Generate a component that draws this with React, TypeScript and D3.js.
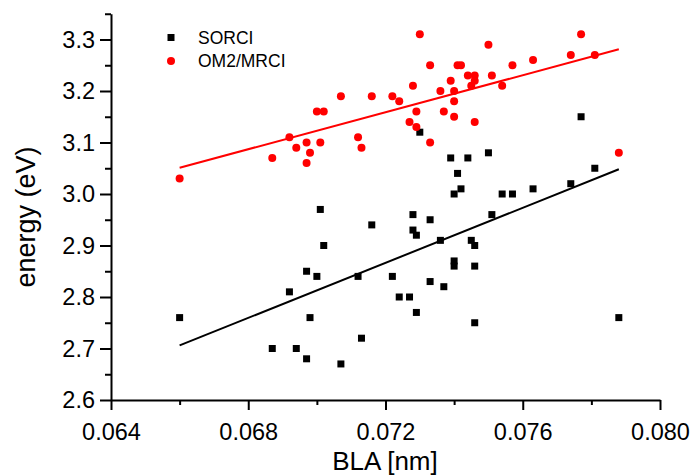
import React, { useEffect, useRef } from "react";
import * as d3 from "d3";

const W = 694;
const H = 475;

// SORCI series
const sorciX = [0.0660, 0.0692, 0.0687, 0.0694, 0.0730, 0.0739, 0.0744, 0.0750, 0.0741, 0.0742, 0.0740, 0.0701, 0.0777, 0.0781, 0.0754, 0.0757, 0.0763, 0.0774, 0.0728, 0.0733, 0.0751, 0.0716, 0.0728, 0.0729, 0.0702, 0.0736, 0.0745, 0.0746, 0.0740, 0.0740, 0.0746, 0.0697, 0.0700, 0.0712, 0.0722, 0.0733, 0.0737, 0.0724, 0.0727, 0.0729, 0.0698, 0.0746, 0.0713, 0.0697, 0.0707, 0.0788];
const sorciY = [2.76, 2.81, 2.70, 2.70, 3.12, 3.07, 3.07, 3.08, 3.04, 3.01, 3.00, 2.97, 3.15, 3.05, 3.00, 3.00, 3.01, 3.02, 2.96, 2.95, 2.96, 2.94, 2.93, 2.92, 2.90, 2.91, 2.91, 2.90, 2.87, 2.86, 2.86, 2.85, 2.84, 2.84, 2.84, 2.83, 2.82, 2.80, 2.80, 2.77, 2.76, 2.75, 2.72, 2.68, 2.67, 2.76];

// OM2/MRCI series
const om2X = [0.0660, 0.0687, 0.0692, 0.0694, 0.0730, 0.0750, 0.0733, 0.0741, 0.0742, 0.0744, 0.0746, 0.0746, 0.0745, 0.0751, 0.0739, 0.0728, 0.0736, 0.0740, 0.0707, 0.0716, 0.0722, 0.0724, 0.0740, 0.0700, 0.0702, 0.0729, 0.0737, 0.0740, 0.0727, 0.0729, 0.0746, 0.0697, 0.0701, 0.0698, 0.0697, 0.0712, 0.0713, 0.0733, 0.0777, 0.0754, 0.0757, 0.0763, 0.0774, 0.0781, 0.0788];
const om2Y = [3.03, 3.07, 3.11, 3.09, 3.31, 3.29, 3.25, 3.25, 3.25, 3.23, 3.23, 3.22, 3.21, 3.23, 3.22, 3.21, 3.20, 3.20, 3.19, 3.19, 3.19, 3.18, 3.18, 3.16, 3.16, 3.16, 3.16, 3.15, 3.14, 3.13, 3.14, 3.10, 3.10, 3.08, 3.06, 3.11, 3.09, 3.10, 3.31, 3.21, 3.25, 3.26, 3.27, 3.27, 3.08];

// Linear fit lines (endpoints)
const fitX = [0.0660, 0.0788];
const sorciFitY = [2.706, 3.048];
const om2FitY = [3.051, 3.281];

const xMajorTicks = [0.064, 0.068, 0.072, 0.076, 0.080];
const xMinorTicks = [0.066, 0.070, 0.074, 0.078];
const yMajorTicks = [2.6, 2.7, 2.8, 2.9, 3.0, 3.1, 3.2, 3.3];
const yMinorTicks = [2.65, 2.75, 2.85, 2.95, 3.05, 3.15, 3.25, 3.35];

const seriesNames = ["SORCI", "OM2/MRCI"];

const FONT = "'Liberation Sans', Arial, sans-serif";

export default function App() {
  const ref = useRef<SVGSVGElement | null>(null);

  useEffect(() => {
    const svg = d3.select(ref.current);
    svg.selectAll("*").remove();

    const x = d3.scaleLinear().domain([0.064, 0.080]).range([111, 660]);
    const y = d3.scaleLinear().domain([2.6, 3.35]).range([400, 13.75]);

    // axes
    const gx = svg.append("g").attr("transform", `translate(0,${y(2.6)})`);
    gx.call(
      d3.axisBottom(x).tickValues(xMajorTicks).tickSize(10).tickSizeOuter(0)
        .tickFormat((d) => d3.format(".3f")(d as number))
    );
    const gxm = svg.append("g").attr("transform", `translate(0,${y(2.6)})`);
    gxm.call(d3.axisBottom(x).tickValues(xMinorTicks).tickSize(5).tickSizeOuter(0).tickFormat(() => ""));
    gxm.select(".domain").remove();

    const gy = svg.append("g").attr("transform", `translate(${x(0.064)},0)`);
    gy.call(
      d3.axisLeft(y).tickValues(yMajorTicks).tickSize(11).tickSizeOuter(0)
        .tickFormat((d) => d3.format(".1f")(d as number))
    );
    const gym = svg.append("g").attr("transform", `translate(${x(0.064)},0)`);
    gym.call(d3.axisLeft(y).tickValues(yMinorTicks).tickSize(6).tickSizeOuter(0).tickFormat(() => ""));
    gym.select(".domain").remove();

    [gx, gy, gxm, gym].forEach((g) => {
      g.selectAll("path.domain").attr("stroke", "#000").attr("stroke-width", 2);
      g.selectAll(".tick line").attr("stroke", "#000").attr("stroke-width", 2);
    });
    gx.selectAll(".tick text")
      .attr("font-family", FONT).attr("font-size", 23.5).attr("fill", "#000")
      .attr("y", 23);
    gy.selectAll(".tick text")
      .attr("font-family", FONT).attr("font-size", 23.5).attr("fill", "#000")
      .attr("x", -16);

    // axis titles
    svg.append("text").attr("x", 385).attr("y", 470)
      .attr("text-anchor", "middle").attr("font-family", FONT).attr("font-size", 26)
      .text("BLA [nm]");
    svg.append("text")
      .attr("transform", `translate(35,${217}) rotate(-90)`)
      .attr("text-anchor", "middle").attr("font-family", FONT).attr("font-size", 27)
      .text("energy (eV)");

    // fit lines
    const line = d3.line<[number, number]>().x((d) => x(d[0])).y((d) => y(d[1]));
    svg.append("path").datum(fitX.map((v, i) => [v, sorciFitY[i]] as [number, number]))
      .attr("d", line).attr("stroke", "#000").attr("stroke-width", 2).attr("fill", "none");
    svg.append("path").datum(fitX.map((v, i) => [v, om2FitY[i]] as [number, number]))
      .attr("d", line).attr("stroke", "#ff0000").attr("stroke-width", 2).attr("fill", "none");

    // points
    const s = 7;
    svg.append("g").selectAll("rect").data(sorciX.map((v, i) => [v, sorciY[i]]))
      .join("rect")
      .attr("x", (d) => x(d[0]) - s / 2).attr("y", (d) => y(d[1]) - s / 2)
      .attr("width", s).attr("height", s).attr("fill", "#000");
    svg.append("g").selectAll("circle").data(om2X.map((v, i) => [v, om2Y[i]]))
      .join("circle")
      .attr("cx", (d) => x(d[0])).attr("cy", (d) => y(d[1]))
      .attr("r", 4).attr("fill", "#ff0000");

    // legend
    const lg = svg.append("g");
    lg.append("rect").attr("x", 171 - s / 2).attr("y", 37.5 - s / 2).attr("width", s).attr("height", s).attr("fill", "#000");
    lg.append("circle").attr("cx", 171).attr("cy", 61).attr("r", 4).attr("fill", "#ff0000");
    lg.selectAll("text").data(seriesNames).join("text")
      .attr("x", 198).attr("y", (_d, i) => 37.5 + i * 23.5)
      .attr("dy", "0.35em")
      .attr("font-family", FONT).attr("font-size", 17.5).attr("fill", "#000")
      .text((d) => d);
  }, []);

  return (
    <svg
      ref={ref}
      width={W}
      height={H}
      style={{ position: "absolute", left: 0, top: 0, background: "#fff" }}
    />
  );
}
